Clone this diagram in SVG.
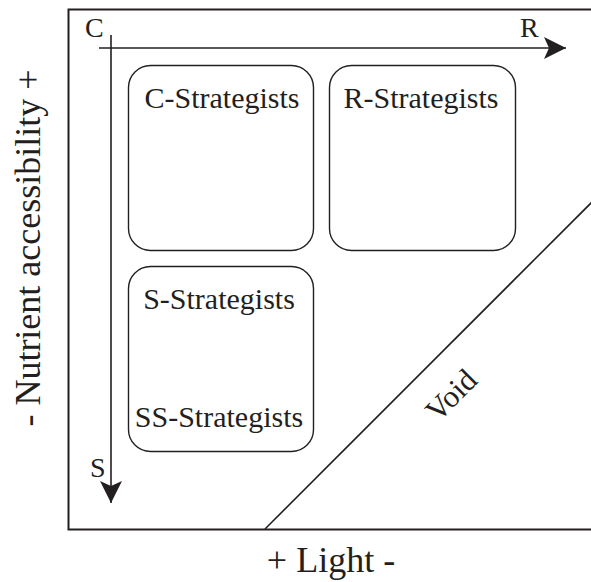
<svg xmlns="http://www.w3.org/2000/svg" width="591" height="582" viewBox="0 0 591 582">
<style>
text{fill:#231f20}
.lbl{font-size:30px;text-anchor:middle}
.ax{font-size:28px}
.big{font-size:36px;text-anchor:middle}
.box{fill:none;stroke:#231f20;stroke-width:1.4}
.ln{fill:none;stroke:#231f20;stroke-width:1.6}
</style>
<defs>
<marker id="ah" markerUnits="userSpaceOnUse" markerWidth="24" markerHeight="24" viewBox="0 0 24 24" refX="22" refY="12" orient="auto">
<path d="M0,1 L22,12 L0,23 L5,12 Z" fill="#231f20"/>
</marker>
</defs>
<rect width="591" height="582" fill="#fff"/>
<rect x="68.5" y="9.5" width="530" height="520" fill="none" stroke="#231f20" stroke-width="2"/>
<g id="connectors">
<line class="ln" x1="99" y1="48" x2="566" y2="48" marker-end="url(#ah)"/>
<line class="ln" x1="111" y1="35" x2="111" y2="503" marker-end="url(#ah)"/>
<line class="ln" x1="265" y1="529" x2="594" y2="200"/>
</g>
<g font-family="Liberation Serif, Times New Roman, serif">
<g id="axis-C"><text class="ax" x="85" y="37">C</text></g>
<g id="axis-R"><text class="ax" x="520" y="37">R</text></g>
<g id="axis-S"><text class="ax" x="90" y="477">S</text></g>
<g id="c-strategists">
<rect class="box" x="128.5" y="65.5" width="185" height="185" rx="22"/>
<text class="lbl" x="222" y="108">C-Strategists</text>
</g>
<g id="r-strategists">
<rect class="box" x="329.5" y="65.5" width="186" height="185" rx="22"/>
<text class="lbl" x="421" y="108">R-Strategists</text>
</g>
<g id="s-strategists">
<rect class="box" x="128.5" y="266.5" width="185" height="185" rx="22"/>
<text class="lbl" x="219" y="309">S-Strategists</text>
<text class="lbl" x="219" y="427">SS-Strategists</text>
</g>
<g id="void">
<text class="lbl" style="text-anchor:start;font-size:31px" transform="translate(438,423) rotate(-45)">Void</text>
</g>
<g id="axis-labels">
<text class="big" x="331" y="572">+ Light -</text>
<text class="big" transform="translate(40,248) rotate(-90)">- Nutrient accessibility +</text>
</g>
</g>
</svg>
